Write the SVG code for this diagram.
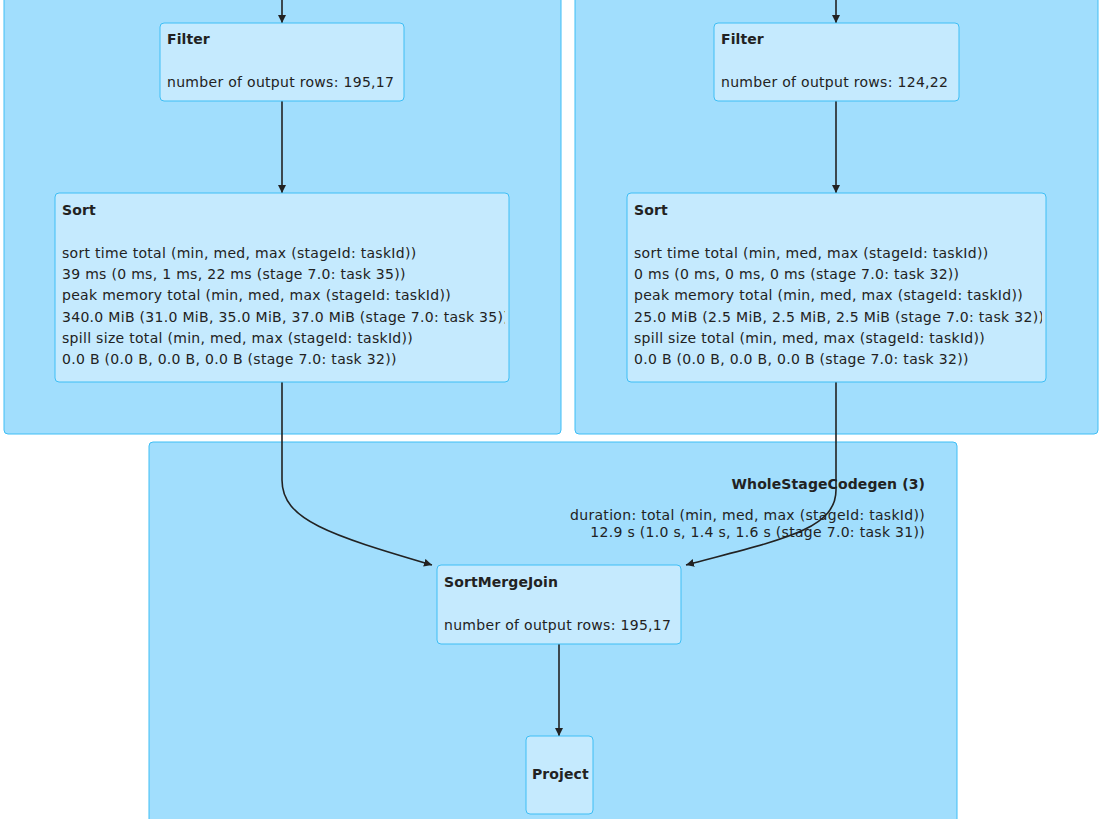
<svg xmlns="http://www.w3.org/2000/svg" width="1104" height="819" viewBox="0 0 1104 819">
<style>
.cl{fill:#A1DEFD;stroke:#3EBEF5;stroke-width:1}
.nd{fill:#C5EAFE;stroke:#3EBEF5;stroke-width:1}
text{font-family:"DejaVu Sans","Liberation Sans",sans-serif;font-size:14px;letter-spacing:0.3px;fill:#222}
.b{font-weight:bold;letter-spacing:0.1px}
.e{fill:none;stroke:#222;stroke-width:1.6;marker-end:url(#ah)}
</style>
<defs>
<marker id="ah" viewBox="0 0 10 10" refX="10" refY="5" markerWidth="8" markerHeight="8" orient="auto" markerUnits="userSpaceOnUse"><path d="M0,0L10,5L0,10z" fill="#222"/></marker>
<clipPath id="c1"><rect x="160" y="23" width="244" height="78"/></clipPath>
<clipPath id="c2"><rect x="55" y="193" width="450" height="189"/></clipPath>
<clipPath id="c3"><rect x="714" y="23" width="245" height="78"/></clipPath>
<clipPath id="c4"><rect x="627" y="193" width="415" height="189"/></clipPath>
<clipPath id="c5"><rect x="437" y="565" width="244" height="79"/></clipPath>
<clipPath id="c6"><rect x="526" y="736" width="64" height="78"/></clipPath>
</defs>
<g id="clusters">
<rect class="cl" x="4" y="-10" width="557" height="444" rx="4"/>
<rect class="cl" x="575" y="-10" width="523" height="444" rx="4"/>
<g id="wsc3">
<rect class="cl" x="149" y="442" width="808" height="390" rx="4"/>
<text class="b" x="925" y="489" text-anchor="end">WholeStageCodegen (3)</text>
<text x="925" y="520" text-anchor="end">duration: total (min, med, max (stageId: taskId))</text>
<text x="925" y="537" text-anchor="end">12.9 s (1.0 s, 1.4 s, 1.6 s (stage 7.0: task 31))</text>
</g>
</g>
<g id="edges">
<path class="e" d="M282,0V23"/>
<path class="e" d="M836,0V23"/>
<path class="e" d="M282,101V193"/>
<path class="e" d="M836,101V193"/>
<path class="e" d="M282,382V480C282,520 330,535 432,565"/>
<path class="e" d="M836,382V490C836,530 780,540 686,565"/>
<path class="e" d="M559,644V736"/>
</g>
<g id="filterL"><rect class="nd" x="160" y="23" width="244" height="78" rx="4"/>
<g clip-path="url(#c1)"><text class="b" x="167" y="44">Filter</text><text x="167" y="87">number of output rows: 195,17</text></g></g>
<g id="sortL"><rect class="nd" x="55" y="193" width="454" height="189" rx="4"/>
<g clip-path="url(#c2)"><text class="b" x="62" y="215">Sort</text>
<text x="62" y="258">sort time total (min, med, max (stageId: taskId))</text>
<text x="62" y="279">39 ms (0 ms, 1 ms, 22 ms (stage 7.0: task 35))</text>
<text x="62" y="300">peak memory total (min, med, max (stageId: taskId))</text>
<text x="62" y="322">340.0 MiB (31.0 MiB, 35.0 MiB, 37.0 MiB (stage 7.0: task 35))</text>
<text x="62" y="343">spill size total (min, med, max (stageId: taskId))</text>
<text x="62" y="364">0.0 B (0.0 B, 0.0 B, 0.0 B (stage 7.0: task 32))</text></g></g>
<g id="filterR"><rect class="nd" x="714" y="23" width="245" height="78" rx="4"/>
<g clip-path="url(#c3)"><text class="b" x="721" y="44">Filter</text><text x="721" y="87">number of output rows: 124,22</text></g></g>
<g id="sortR"><rect class="nd" x="627" y="193" width="419" height="189" rx="4"/>
<g clip-path="url(#c4)"><text class="b" x="634" y="215">Sort</text>
<text x="634" y="258">sort time total (min, med, max (stageId: taskId))</text>
<text x="634" y="279">0 ms (0 ms, 0 ms, 0 ms (stage 7.0: task 32))</text>
<text x="634" y="300">peak memory total (min, med, max (stageId: taskId))</text>
<text x="634" y="322">25.0 MiB (2.5 MiB, 2.5 MiB, 2.5 MiB (stage 7.0: task 32))</text>
<text x="634" y="343">spill size total (min, med, max (stageId: taskId))</text>
<text x="634" y="364">0.0 B (0.0 B, 0.0 B, 0.0 B (stage 7.0: task 32))</text></g></g>
<g id="smj"><rect class="nd" x="437" y="565" width="244" height="79" rx="4"/>
<g clip-path="url(#c5)"><text class="b" x="444" y="587">SortMergeJoin</text><text x="444" y="630">number of output rows: 195,17</text></g></g>
<g id="project"><rect class="nd" x="526" y="736" width="67" height="78" rx="4"/>
<g clip-path="url(#c6)"><text class="b" x="532" y="779">Project</text></g></g>
</svg>
